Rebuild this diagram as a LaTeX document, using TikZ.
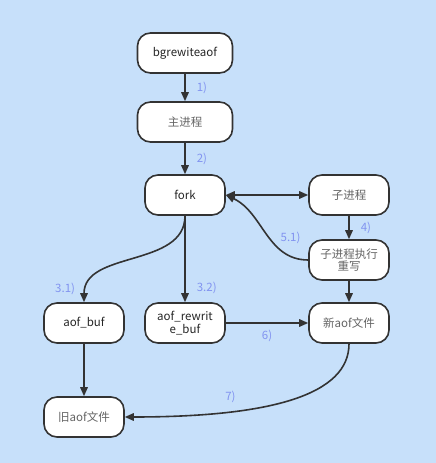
\documentclass[tikz,border=0pt]{standalone}
\usepackage{fontspec}
\setmainfont{Noto Sans CJK SC}
\usetikzlibrary{arrows.meta,positioning}
\definecolor{bgcol}{RGB}{199,224,250}
\definecolor{linecol}{RGB}{51,51,51}
\definecolor{labcol}{RGB}{130,148,240}
\definecolor{cncol}{RGB}{100,100,100}

\begin{document}
\begin{tikzpicture}[x=1pt,y=1pt,node distance=68pt,on grid,auto,
    >={Triangle[length=9pt,width=7.5pt]},
    box/.style={draw=linecol,line width=1.6pt,fill=white,rounded corners=13pt,
      minimum width=80pt,minimum height=40pt,align=center,
      font=\fontsize{11.5}{12.5}\selectfont,text=black!85},
    wide/.style={box,minimum width=95pt},
    cn/.style={text=cncol},
    lab/.style={text=labcol,font=\fontsize{11.5}{12}\selectfont,inner xsep=11pt,inner ysep=6pt}]
   \fill[bgcol] (0,0) rectangle (436,463);
   \useasboundingbox (0,0) rectangle (436,463);
   \node[wide] (bg) at (185,410) {bgrewiteaof};
   \node[wide,cn] (main) [below=69pt of bg] {主进程};
   \node[box] (fork) [below=73pt of main] {fork};
   \node[box,cn] (child) [right=164pt of fork] {子进程};
   \node[box,cn] (rewrite) [below=65pt of child] {子进程执行\\重写};
   \node[box,cn] (newaof) [below=63pt of rewrite] {新aof文件};
   \node[box] (rwbuf) [below=128pt of fork] {aof\_rewrit\\e\_buf};
   \node[box] (aofbuf) [left=101pt of rwbuf] {aof\_buf};
   \node[box,cn] (oldaof) [below=94pt of aofbuf] {旧aof文件};
    \path[->,every edge/.style={draw=linecol,line width=1.6pt}]
    (bg) edge node[lab] {1)} (main)
    (main) edge node[lab] {2)} (fork)
    (fork) edge [<->] (child)
           edge [out=-90,in=90] node [lab,pos=0.9,left] {3.1)} (aofbuf)
           edge node [lab,pos=0.83] {3.2)} (rwbuf)
    (child) edge node[lab] {4)} (rewrite)
    (rewrite) edge [out=180,in=-25] node [lab,pos=0.45,right] {5.1)} (fork.east)
              edge (newaof)
    (rwbuf) edge node [lab,swap] {6)} (newaof)
    (aofbuf) edge (oldaof)
    (newaof) edge [out=-90,in=0,out looseness=0.55,in looseness=1.6] node [lab,pos=0.67,swap] {7)} (oldaof);
\end{tikzpicture}
\end{document}
